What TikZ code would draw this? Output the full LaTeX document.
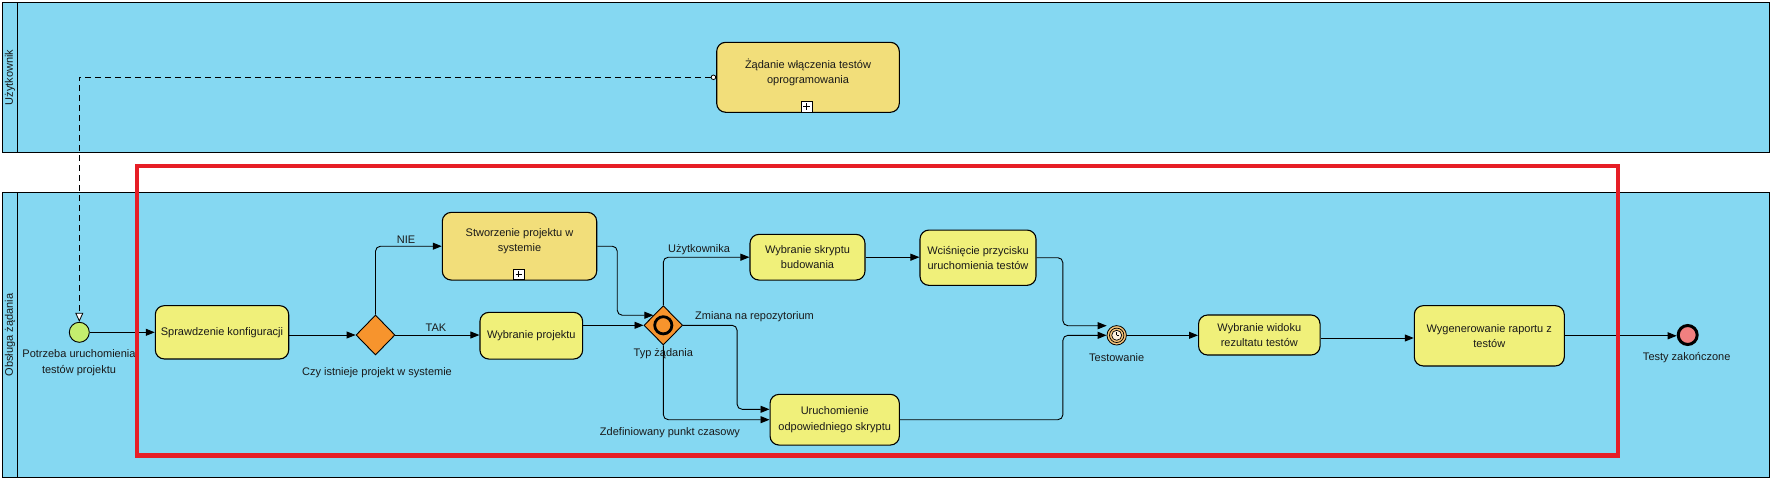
\documentclass[tikz,border=0pt]{standalone}
\usepackage{fontspec}
\setmainfont{Liberation Sans}
\usetikzlibrary{arrows.meta,shapes.geometric,calc}
\definecolor{laneblue}{RGB}{133,216,242}
\definecolor{taskyellow}{RGB}{240,240,122}
\definecolor{subgold}{RGB}{242,222,122}
\definecolor{gwor}{RGB}{247,148,45}
\definecolor{startgreen}{RGB}{196,238,110}
\definecolor{endred}{RGB}{240,128,128}
\definecolor{timerfill}{RGB}{245,196,122}
\definecolor{framered}{RGB}{230,30,38}
\definecolor{txt}{RGB}{25,25,25}
\begin{document}
\begin{tikzpicture}[x=1pt,y=-1pt,
  every node/.style={font=\fontsize{11}{15.3}\selectfont, text=txt},
  lanebox/.style={draw=black, line width=1pt, fill=laneblue},
  taskbox/.style={rectangle, draw=black, line width=1.1pt, rounded corners=9pt, fill=taskyellow, inner sep=0pt, align=center},
  subbox/.style={taskbox, fill=subgold},
  gateway/.style={diamond, draw=black, line width=0.9pt, fill=gwor, inner sep=0pt},
  flow/.style={draw=black, line width=0.9pt, rounded corners=5pt, -{Triangle[length=9pt,width=7pt]}},
  msgflow/.style={draw=black, line width=0.8pt, dash pattern=on 6pt off 4pt, {Circle[length=5.4pt,fill=white]}-{Triangle[length=9pt,width=8pt,fill=white]}},
  lbl/.style={inner sep=0pt, align=center},
  plusmark/.style={rectangle, draw=black, line width=0.8pt, fill=white, minimum size=10.5pt, inner sep=0pt,
    path picture={
      \draw[line width=0.8pt] ($(path picture bounding box.north)+(0,2)$) -- ($(path picture bounding box.south)+(0,-2)$);
      \draw[line width=0.8pt] ($(path picture bounding box.west)+(2,0)$) -- ($(path picture bounding box.east)+(-2,0)$);
    }}
]
\useasboundingbox[fill=white] (0,0) rectangle (1773,482);

% lanes
\draw[lanebox] (2.7,2.7) rectangle (1769.3,152.3);
\draw[line width=1pt] (17.3,2.7) -- (17.3,152.3);
\node[rotate=90, inner sep=0pt] (lanetoplbl) at (10,77.5) {Użytkownik};
\draw[lanebox] (2.7,192.7) rectangle (1769.3,477.7);
\draw[line width=1pt] (17.3,192.7) -- (17.3,477.7);
\node[rotate=90, inner sep=0pt] (lanebotlbl) at (10,335) {Obsługa żądania};

% top lane task
\node[subbox, minimum width=182.6pt, minimum height=70pt] (zadanie) at (808,77.3) {};
\node[lbl] (zadanietxt) at (808,72.2) {Żądanie włączenia testów\\oprogramowania};
\node[plusmark] (zadanieplus) at (806.7,106.7) {};

% events
\node[circle, draw=black, line width=0.9pt, fill=startgreen, minimum size=20pt, inner sep=0pt] (start) at (79.3,332.3) {};
\node[lbl] (startlbl) at (79,362.8) {Potrzeba uruchomienia\\testów projektu};

\node[circle, draw=black, line width=0.8pt, fill=timerfill, minimum size=19.4pt, inner sep=0pt] (timer) at (1116.7,335.3) {};
\draw[line width=0.7pt] (timer.center) circle[radius=7.2];
\draw[line width=0.7pt, fill=white!75!timerfill] (timer.center) circle[radius=5];
\draw[line width=0.7pt] (timer.center) -- ++(0,-3.6) (timer.center) -- ++(2.6,0);
\node[lbl] (timerlbl) at (1116.7,357.7) {Testowanie};

\node[circle, draw=black, line width=3pt, fill=endred, minimum size=19pt, inner sep=0pt] (end) at (1687.7,335) {};
\node[lbl] (endlbl) at (1686.7,357.3) {Testy zakończone};

% tasks
\node[taskbox, minimum width=133.4pt, minimum height=53.3pt] (sprawdz) at (222,332.3) {Sprawdzenie konfiguracji};
\node[subbox, minimum width=154.4pt, minimum height=67.7pt] (stworz) at (519.5,246.2) {};
\node[lbl] (stworztxt) at (519.5,241.2) {Stworzenie projektu w\\systemie};
\node[plusmark] (stworzplus) at (518.8,274.2) {};
\node[taskbox, minimum width=102.7pt, minimum height=46.7pt] (wybproj) at (531.3,335.7) {Wybranie projektu};
\node[taskbox, minimum width=115pt, minimum height=45.7pt] (wybskr) at (807.5,257.2) {Wybranie skryptu\\budowania};
\node[taskbox, minimum width=116pt, minimum height=55.3pt] (wcis) at (978,257.7) {Wciśnięcie przycisku\\uruchomienia testów};
\node[taskbox, minimum width=129.3pt, minimum height=50.7pt] (urucho) at (834.7,419.7) {Uruchomienie\\odpowiedniego skryptu};
\node[taskbox, minimum width=121.5pt, minimum height=40pt] (wybwid) at (1259.3,335) {Wybranie widoku\\rezultatu testów};
\node[taskbox, minimum width=150pt, minimum height=60.3pt] (wygen) at (1489.3,335.8) {Wygenerowanie raportu z\\testów};

% gateways
\node[gateway, minimum width=39pt, minimum height=40pt] (gw1) at (375.5,335) {};
\node[lbl] (gw1lbl) at (377,372.7) {Czy istnieje projekt w systemie};
\node[gateway, minimum width=38.7pt, minimum height=39.3pt] (gw2) at (663.3,325.3) {};
\draw[line width=2.8pt] (gw2.center) circle[radius=8.6];
\node[lbl] (gw2lbl) at (663.3,353.3) {Typ żądania};

% flow labels
\node[lbl] (nielbl) at (406,239.3) {NIE};
\node[lbl] (taklbl) at (436,327.7) {TAK};
\node[lbl] (uzytlbl) at (699,249.3) {Użytkownika};
\node[lbl, anchor=west] (zmianalbl) at (695,316.7) {Zmiana na repozytorium};
\node[lbl] (zdeflbl) at (670,432.3) {Zdefiniowany punkt czasowy};

% connectors
\draw[msgflow] (zadanie.west) -| (start.north);
\draw[flow] (start.east) -- (start.east -| sprawdz.west);
\draw[flow] (sprawdz.east |- gw1.west) -- (gw1.west);
\draw[flow] (gw1.north) |- (stworz.west);
\draw[flow] (gw1.east) -- (gw1.east -| wybproj.west);
\draw[flow] (stworz.east) -- ++(20,0) |- (gw2.north west);
\draw[flow] (gw2.west -| wybproj.east) -- (gw2.west);
\draw[flow] (gw2.north) |- (wybskr.west);
\draw[flow] (gw2.east) -- ++(54,0) |- ([yshift=10.4pt]urucho.west);
\draw[flow] (gw2.south) |- (urucho.west);
\draw[flow] (wybskr.east) -- (wybskr.east -| wcis.west);
\draw[flow] (wcis.east) -- ++(26.3,0) |- ([xshift=-10pt,yshift=9.6pt]timer.center);
\draw[flow] (urucho.east) -- ++(163,0) |- (timer.west);
\draw[flow] (timer.east) -- (timer.east -| wybwid.west);
\draw[flow] ([yshift=-3pt]wybwid.east) -- ([yshift=-3pt]wybwid.east -| wygen.west);
\draw[flow] (wygen.east) -- (wygen.east -| end.west);

% highlight frame
\draw[framered, line width=4.3pt] (137.2,166) rectangle (1617.8,455.5);
\end{tikzpicture}
\end{document}
